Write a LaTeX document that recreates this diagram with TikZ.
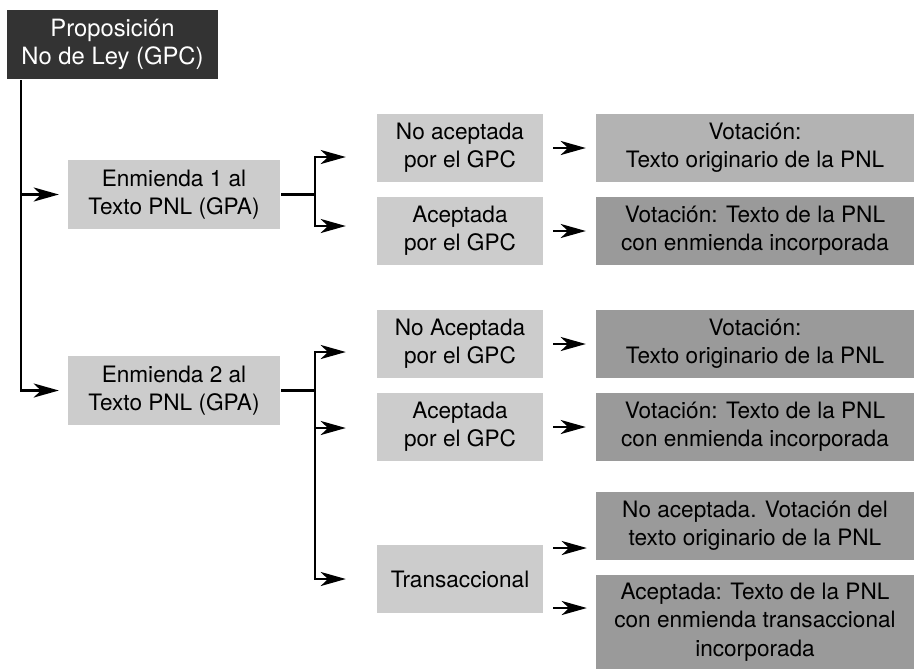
\documentclass[tikz,border=0pt]{standalone}
\usepackage{fontspec}
\setmainfont{TeX Gyre Heros}
\usetikzlibrary{arrows.meta}
\usetikzlibrary{positioning}
\usetikzlibrary{calc}
\definecolor{darkbox}{HTML}{333333}
\definecolor{lightbox}{HTML}{CCCCCC}
\definecolor{midbox}{HTML}{B3B3B3}
\definecolor{votebox}{HTML}{9A9A9A}

\begin{document}
\begin{tikzpicture}[->,>={Stealth[length=12.5pt,width=7pt,inset=3.5pt]},x=0.5pt,y=-0.5pt,line width=1.2pt]
			\tikzset{box/.style = {shape=rectangle, inner sep=0pt, align=center, font=\fontsize{11.3}{14.2}\selectfont},
				head/.style = {box, fill=darkbox, text=white, minimum width=105.5pt, minimum height=34.5pt, font=\fontsize{11.9}{14.2}\selectfont},
				enm/.style = {box, fill=lightbox, minimum width=106pt, minimum height=34.5pt},
				opt/.style = {box, fill=lightbox, minimum width=83pt, minimum height=34pt},
				res/.style = {box, fill=votebox, minimum width=159pt, minimum height=34pt}}
			\useasboundingbox (0,0) rectangle (914,669);
			\node[head] (PNL) at (112.5,44.5) {Proposición\\No de Ley (GPC)};
			\node[enm] (ENM1) at (174,194.5) {Enmienda 1 al\\Texto PNL (GPA)};
			\node[enm] (ENM2) at (174,390.5) {Enmienda 2 al\\Texto PNL (GPA)};
			\node[opt] (NA1) at (460,148) {No aceptada\\por el GPC};
			\node[opt] (A1) at (460,231) {Aceptada\\por el GPC};
			\node[opt] (NA2) at (460,344) {No Aceptada\\por el GPC};
			\node[opt] (A2) at (460,427) {Aceptada\\por el GPC};
			\node[opt] (TR) at (460,579) {Transaccional};
			\node[res, fill=midbox] (R1) at (755,148) {Votación:\\Texto originario de la PNL};
			\node[res] (R2) at (755,231) {Votación: Texto de la PNL\\con enmienda incorporada};
			\node[res] (R3) at (755,344) {Votación:\\Texto originario de la PNL};
			\node[res] (R4) at (755,427) {Votación: Texto de la PNL\\con enmienda incorporada};
			\node[res] (R5) at (755,526) {No aceptada. Votación del\\texto originario de la PNL};
			\node[res, minimum height=47pt] (R6) at (755,622) {Aceptada: Texto de la PNL\\con enmienda transaccional\\incorporada};
			
			\coordinate (T) at ([xshift=7.5pt]PNL.south west);
			\draw[shorten >=4pt] (T) |- (ENM2.west);
			\draw[shorten >=4pt] (T |- ENM1.west) -- (ENM1.west);
			
			\draw[-] (ENM1.east) -- ++(34,0) coordinate (B1);
			\draw (B1) |- ([shift={(-30,9)}]NA1.west);
			\draw (B1) |- ([shift={(-30,-5)}]A1.west);
			\draw[-] (ENM2.east) -- ++(34,0) coordinate (B2);
			\draw (B2) |- ([shift={(-30,8)}]NA2.west);
			\draw (B2) |- ([shift={(-30,1)}]A2.west);
			\draw (B2) |- ([xshift=-15pt]TR.west);
			
			\draw[shorten <=4.5pt, shorten >=4.5pt] (NA1) -- (R1);
			\draw[shorten <=4.5pt, shorten >=4.5pt] (A1) -- (R2);
			\draw[shorten <=4.5pt, shorten >=4.5pt] (NA2) -- (R3);
			\draw[shorten <=4.5pt, shorten >=4.5pt] (A2) -- (R4);
			\draw ([shift={(9,-31)}]TR.east) -- ([shift={(-8,22)}]R5.west);
			\draw ([shift={(9,29)}]TR.east) -- ([shift={(-8,-14)}]R6.west);
			\end{tikzpicture}
\end{document}
